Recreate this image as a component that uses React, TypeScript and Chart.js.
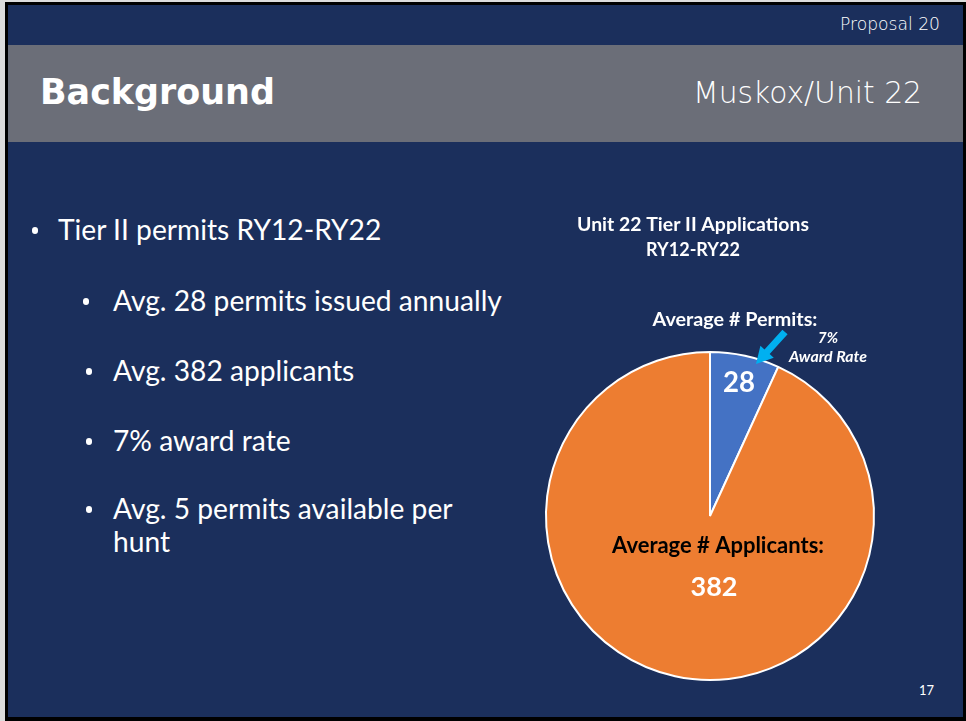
import React, { useEffect, useRef } from "react";
import { Chart, registerables } from "chart.js";

Chart.register(...registerables);

// ---------- data ----------
const categories = ["Average # Permits:", "Average # Applicants:"];
const values = [28, 382];
const sliceColors = ["#4472C4", "#ED7D31"];
const chartTitle = ["Unit 22 Tier II Applications", "RY12-RY22"];
const awardLabel = "Award Rate";
const slideTitle = "Background";
const slideSubtitle = "Muskox/Unit 22";
const proposalLabel = "Proposal 20";
const pageNumber = "17";
const bulletLevel1 = ["Tier II permits RY12-RY22"];
const bulletLevel2 = [
  ["Avg. 28 permits issued annually"],
  ["Avg. 382 applicants"],
  ["7% award rate"],
  ["Avg. 5 permits available per", "hunt"],
];

// ---------- style ----------
const NAVY = "#1b2f5c";
const GREY = "#6b6e78";
const ARROW = "#00B0F0";
const SANS = "Lato, 'Open Sans', sans-serif";
const GOTHIC = "'DejaVu Sans', sans-serif";
const METRICS: Record<string, [number, number]> = {
  [SANS]: [0.987, 0.213],
  [GOTHIC]: [0.928, 0.236],
};

const measureCtx = document.createElement("canvas").getContext("2d")!;
function fit(text: string, family: string, weight: number, italic: boolean, target: number) {
  measureCtx.font = `${italic ? "italic" : "normal"} ${weight} 100px ${family}`;
  return (100 * target) / measureCtx.measureText(text).width;
}

type TxtProps = {
  text: string;
  x: number;
  baseline: number;
  family: string;
  size: number;
  weight?: number;
  italic?: boolean;
  color?: string;
  align?: "left" | "right";
};

function Txt({ text, x, baseline, family, size, weight = 400, italic = false, color = "#fff", align = "left" }: TxtProps) {
  const [asc, desc] = METRICS[family];
  const style: React.CSSProperties = {
    position: "absolute",
    top: baseline - asc * size,
    fontFamily: family,
    fontSize: size,
    fontWeight: weight,
    fontStyle: italic ? "italic" : "normal",
    lineHeight: `${(asc + desc) * size}px`,
    color,
    whiteSpace: "nowrap",
  };
  if (align === "left") style.left = x;
  else style.right = 966 - x;
  return <div style={style}>{text}</div>;
}

function Dot({ cx, cy }: { cx: number; cy: number }) {
  const d = 6.5;
  return (
    <div
      style={{
        position: "absolute",
        left: cx - d / 2,
        top: cy - d / 2,
        width: d,
        height: d,
        borderRadius: "50%",
        background: "#fff",
      }}
    />
  );
}

const sliceLabelPlugin = {
  id: "sliceLabels",
  afterDatasetsDraw(chart: any) {
    const meta = chart.getDatasetMeta(0);
    const arc = meta.data[0];
    const { x: cx, y: cy, outerRadius: R, startAngle, endAngle } = arc.getProps(
      ["x", "y", "outerRadius", "startAngle", "endAngle"],
      true
    );
    const u = R / 164;
    const ctx: CanvasRenderingContext2D = chart.ctx;
    const total = values.reduce((a, b) => a + b, 0);
    const pct = `${Math.round((values[0] / total) * 100)}%`;

    const draw = (text: string, x: number, y: number, target: number, color: string, italic = false) => {
      ctx.font = `${italic ? "italic" : "normal"} 700 100px ${SANS}`;
      const size = (100 * target * u) / ctx.measureText(text).width;
      ctx.font = `${italic ? "italic" : "normal"} 700 ${size}px ${SANS}`;
      ctx.fillStyle = color;
      ctx.textAlign = "center";
      ctx.textBaseline = "middle";
      ctx.fillText(text, x, y);
    };

    ctx.save();
    // chart title
    draw(chartTitle[0], cx - 17 * u, cy - 291 * u, 232, "#fff");
    draw(chartTitle[1], cx - 17 * u, cy - 266 * u, 94, "#fff");
    // permits label
    draw(categories[0], cx + 25 * u, cy - 196 * u, 165, "#fff");
    draw(pct, cx + 118 * u, cy - 178 * u, 20, "#fff", true);
    draw(awardLabel, cx + 118 * u, cy - 159 * u, 78, "#fff", true);
    // value inside blue slice
    const mid = (startAngle + endAngle) / 2;
    draw(String(values[0]), cx + Math.cos(mid) * R * 0.83, cy + Math.sin(mid) * R * 0.83, 32, "#fff");
    // applicants label
    draw(categories[1], cx + 8 * u, cy + 30 * u, 212, "#000");
    draw(String(values[1]), cx + 4 * u, cy + 71 * u, 47, "#fff");

    // arrow
    const tail = { x: cx + 75 * u, y: cy - 184 * u };
    const tip = { x: cx + 46 * u, y: cy - 152 * u };
    const dx = tip.x - tail.x;
    const dy = tip.y - tail.y;
    const len = Math.hypot(dx, dy);
    const d = { x: dx / len, y: dy / len };
    const n = { x: -d.y, y: d.x };
    const hw = 3.5 * u;
    const hh = 9 * u;
    const hl = 16.5 * u;
    const base = { x: tip.x - d.x * hl, y: tip.y - d.y * hl };
    ctx.beginPath();
    ctx.moveTo(tail.x + n.x * hw, tail.y + n.y * hw);
    ctx.lineTo(base.x + n.x * hw, base.y + n.y * hw);
    ctx.lineTo(base.x + n.x * hh, base.y + n.y * hh);
    ctx.lineTo(tip.x, tip.y);
    ctx.lineTo(base.x - n.x * hh, base.y - n.y * hh);
    ctx.lineTo(base.x - n.x * hw, base.y - n.y * hw);
    ctx.lineTo(tail.x - n.x * hw, tail.y - n.y * hw);
    ctx.closePath();
    ctx.fillStyle = ARROW;
    ctx.fill();
    ctx.restore();
  },
};

export default function App() {
  const ref = useRef<HTMLCanvasElement>(null);

  useEffect(() => {
    const chart = new Chart(ref.current!, {
      type: "pie",
      data: {
        labels: categories,
        datasets: [
          {
            data: values,
            backgroundColor: sliceColors,
            borderColor: "#ffffff",
            borderWidth: 2,
          },
        ],
      },
      options: {
        responsive: false,
        animation: false,
        layout: { padding: { left: 25, top: 161, right: 45, bottom: 29 } },
        plugins: {
          legend: { display: false },
          tooltip: { enabled: false },
          title: { display: false },
        },
      },
      plugins: [sliceLabelPlugin],
    });
    return () => chart.destroy();
  }, []);

  const bulletSize = fit(bulletLevel1[0], SANS, 400, false, 324);
  const titleSize = fit(slideTitle, GOTHIC, 700, false, 235);
  const subSize = fit(slideSubtitle, GOTHIC, 200, false, 229);
  const propSize = fit(proposalLabel, GOTHIC, 300, false, 100);
  const pageSize = fit(pageNumber, SANS, 400, false, 15);

  const level1Baseline = 241;
  const level2Baselines = [312, 382, 452, 520];
  const level2BulletX = [86, 89, 89, 89];
  const lineGap = 33;
  const dotRise = 10.5;

  return (
    <div style={{ position: "absolute", left: 0, top: 0, width: 966, height: 721, background: "#dcdcdc", overflow: "hidden" }}>
      <div style={{ position: "absolute", left: 5, top: 2, width: 961, height: 719, background: "#000" }} />
      <div style={{ position: "absolute", left: 8, top: 5, width: 955, height: 712, background: NAVY }} />
      <div style={{ position: "absolute", left: 8, top: 45, width: 955, height: 97, background: GREY }} />

      <Txt text={proposalLabel} x={940} baseline={31} family={GOTHIC} size={propSize} weight={300} align="right" />
      <Txt text={slideTitle} x={40} baseline={104} family={GOTHIC} size={titleSize} weight={700} />
      <Txt text={slideSubtitle} x={922} baseline={104} family={GOTHIC} size={subSize} weight={200} align="right" />

      <Dot cx={35} cy={level1Baseline - dotRise} />
      <Txt text={bulletLevel1[0]} x={58} baseline={level1Baseline} family={SANS} size={bulletSize} />
      {bulletLevel2.map((lines, i) => (
        <React.Fragment key={i}>
          <Dot cx={level2BulletX[i]} cy={level2Baselines[i] - dotRise} />
          {lines.map((line, j) => (
            <Txt key={j} text={line} x={113} baseline={level2Baselines[i] + j * lineGap} family={SANS} size={bulletSize} />
          ))}
        </React.Fragment>
      ))}

      <Txt text={pageNumber} x={919} baseline={696} family={SANS} size={pageSize} />

      <canvas ref={ref} width={400} height={520} style={{ position: "absolute", left: 520, top: 190, width: 400, height: 520 }} />
    </div>
  );
}
